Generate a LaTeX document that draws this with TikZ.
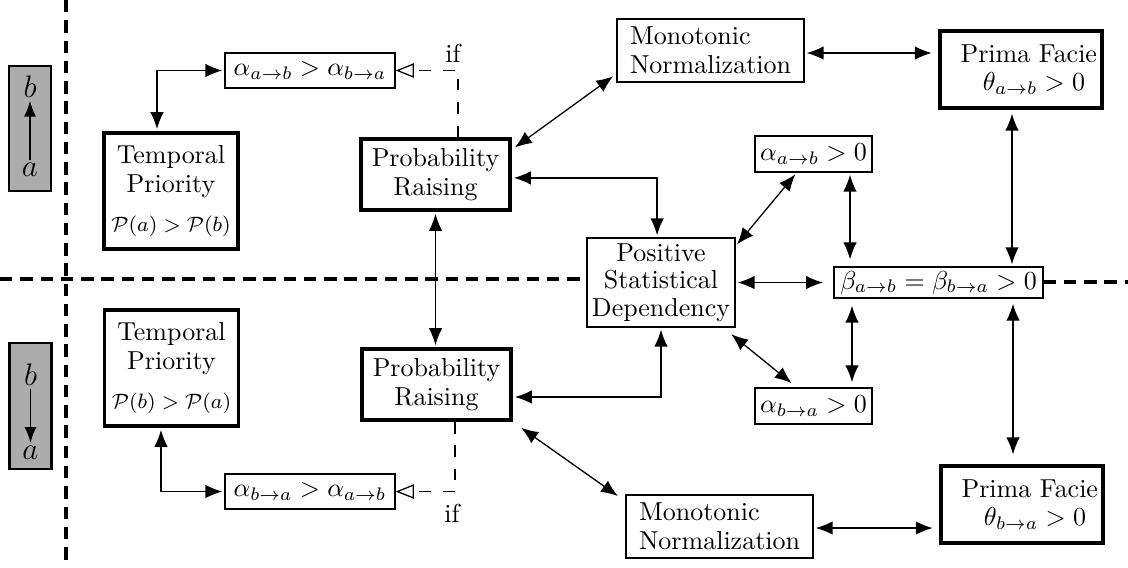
\documentclass[tikz,border=0pt]{standalone}
\usetikzlibrary{arrows.meta,calc}
\tikzset{
  sz/.style 2 args={minimum width=#1*0.385pt, minimum height=#2*0.385pt},
  thickbox/.style={draw, line width=1.4pt, fill=white, align=center, inner sep=1pt, font=\fontsize{10}{11}\selectfont},
  thinbox/.style={draw, line width=0.5pt, fill=white, align=center, inner sep=1pt, font=\fontsize{10}{11}\selectfont},
  graybox/.style={draw, line width=0.9pt, fill=gray!65},
  letter/.style={font=\large, inner sep=1pt},
  conn/.style={line width=0.5pt, {Latex[length=6.5pt,width=5.2pt]}-{Latex[length=6.5pt,width=5.2pt]}, shorten <=0.8pt, shorten >=0.8pt},
  onearrow/.style={line width=0.5pt, -{Latex[length=6pt,width=4.6pt]}},
  divider/.style={line width=1.4pt, dash pattern=on 4.8pt off 3pt},
  ifline/.style={line width=0.5pt, dash pattern=on 4.5pt off 4.5pt, -{Triangle[open,length=7pt,width=5.5pt]}},
  iflabel/.style={font=\fontsize{10}{11}\selectfont, inner sep=1pt}
}
\begin{document}
\begin{tikzpicture}[x=0.385pt,y=-0.385pt]
\useasboundingbox (0,0) rectangle (1128,567);

% gray indicator boxes
\node[graybox, sz={42}{125}] (gt) at (30,128.5) {};
\node[letter] (gtb) at (30,87) {$b$};
\node[letter] (gta) at (30,170) {$a$};
\draw[onearrow] (gta) -- (gtb);
\node[graybox, sz={42}{126}] (gb) at (30.5,406) {};
\node[letter] (gbb) at (30.5,375) {$b$};
\node[letter] (gba) at (30.5,452.5) {$a$};
\draw[onearrow] (gbb) -- (gba);

% temporal priority
\node[thickbox, sz={134}{116}] (tpt) at (171,191) {Temporal\\Priority\\[4pt]{\footnotesize $\mathcal{P}(a) > \mathcal{P}(b)$}};
\node[thickbox, sz={134}{116}] (tpb) at (171.5,368) {Temporal\\Priority\\[4pt]{\footnotesize $\mathcal{P}(b) > \mathcal{P}(a)$}};

% alpha comparison boxes
\node[thinbox, sz={170}{35}] (ab1) at (310,70.5) {$\alpha_{a\rightarrow b} > \alpha_{b\rightarrow a}$};
\node[thinbox, sz={170}{35}] (ba1) at (310,491.5) {$\alpha_{b\rightarrow a} > \alpha_{a\rightarrow b}$};

% probability raising
\node[thickbox, sz={149}{71}] (prt) at (435.5,174.5) {Probability\\Raising};
\node[thickbox, sz={149}{71}] (prb) at (436.5,384.5) {Probability\\Raising};

% monotonic normalization
\node[thinbox, align=left, sz={187}{63}] (mnt) at (710.5,50.5) {Monotonic\\Normalization};
\node[thinbox, align=left, sz={187}{63}] (mnb) at (719.5,526.5) {Monotonic\\Normalization};

% prima facie
\node[thickbox, sz={162}{77}] (pft) at (1021,69.5) {\hspace*{6pt}Prima Facie\\\hspace*{10pt}$\theta_{a\rightarrow b} > 0$};
\node[thickbox, sz={162}{77}] (pfb) at (1022,504.5) {\hspace*{6pt}Prima Facie\\\hspace*{10pt}$\theta_{b\rightarrow a} > 0$};

% positive statistical dependency
\node[thinbox, sz={148}{89}, font=\fontsize{10}{10.6}\selectfont] (psd) at (661,282.5) {Positive\\Statistical\\Dependency};

% small boxes
\node[thinbox, sz={117}{36}] (ab0) at (813.5,154) {$\alpha_{a\rightarrow b} > 0$};
\node[thinbox, sz={117}{36}] (ba0) at (813.5,406) {$\alpha_{b\rightarrow a} > 0$};
\node[thinbox, sz={209}{31}] (beta) at (938.5,282.5) {$\beta_{a\rightarrow b} = \beta_{b\rightarrow a} > 0$};

% dividers
\coordinate (vtop) at (66,0);
\coordinate (vbot) at (66,567);
\draw[divider] (vtop) -- (vbot);
\coordinate (hl) at (0,279);
\draw[divider] (hl) -- (hl -| psd.west);
\coordinate (hr) at (1128,282);
\draw[divider] (beta.east |- hr) -- (hr);

% temporal priority connectors
\coordinate (xa) at (157,0);
\draw[conn] (tpt.north -| xa) |- (ab1.west);
\coordinate (xb) at (161,0);
\draw[conn] (tpb.south -| xb) |- (ba1.west);

% if lines
\coordinate (xif1) at (458,0);
\draw[ifline] (prt.north -| xif1) |- (ab1.east);
\node[iflabel] (if1) at (453,53.5) {if};
\coordinate (xif2) at (455,0);
\draw[ifline] (prb.south -| xif2) |- (ba1.east);
\node[iflabel] (if2) at (452,513.5) {if};

% probability raising connectors
\draw[conn] (prt.south) -- (prt.south |- prb.north);
\draw[conn, shorten <=1.5pt, shorten >=1.5pt] (prt.18) -- (mnt.194);
\draw[conn, shorten <=4pt, shorten >=3.5pt] (prb.south east) -- (mnb.165);
\draw[conn] ([yshift=-1.3pt]prt.east) -| ([xshift=-1.5pt]psd.north);
\draw[conn] ([yshift=-4.8pt]prb.east) -| (psd.south);

% monotonic normalization to prima facie
\coordinate (ymn1) at (0,53);
\draw[conn, shorten >=2.5pt] (mnt.east |- ymn1) -- (pft.west |- ymn1);
\coordinate (ymn2) at (0,528);
\draw[conn, shorten >=2.5pt] (mnb.east |- ymn2) -- (pfb.west |- ymn2);

% psd connectors
\draw[conn] (psd.26) -- (ab0.228);
\draw[conn, shorten <=4pt, shorten >=2.5pt] (psd.-36) -- (ba0.132);
\draw[conn, shorten >=4pt] (psd.east) -- (beta.west);

% vertical connectors to beta
\coordinate (xc1) at (850,0);
\draw[conn, shorten >=2.7pt] (ab0.south -| xc1) -- (beta.north -| xc1);
\coordinate (xc2) at (852,0);
\draw[conn, shorten <=2.7pt, shorten >=2pt] (beta.south -| xc2) -- (ba0.north -| xc2);
\coordinate (xc3) at (1012,0);
\draw[conn, shorten <=1.5pt] (pft.south -| xc3) -- (beta.north -| xc3);
\coordinate (xc4) at (1013,0);
\draw[conn, shorten <=2pt, shorten >=3.8pt] (beta.south -| xc4) -- (pfb.north -| xc4);
\end{tikzpicture}
\end{document}
